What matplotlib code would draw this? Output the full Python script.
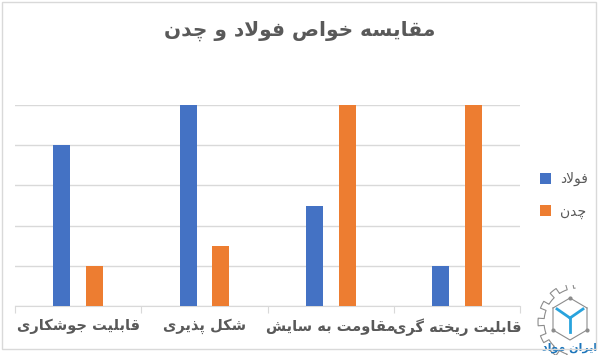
import numpy as np
import matplotlib
matplotlib.use('Agg')
import matplotlib.pyplot as plt
from matplotlib.patches import Rectangle

matplotlib.rcParams['font.family'] = ['DejaVu Sans']

# data
title = 'مقایسه خواص فولاد و چدن'
categories = ['قابلیت جوشکاری', 'شکل پذیری', 'مقاومت به سایش', 'قابلیت ریخته گری']
steel = [4, 5, 2.5, 1]
cast_iron = [1, 1.5, 5, 5]
series_names = ['فولاد', 'چدن']

# --- small persian shaper (matplotlib has no text shaping) ---
# letter: (isolated, final, initial, medial); None = does not join forward
FORMS = {
    'ا': (0xFE8D, 0xFE8E, None, None), 'آ': (0xFE81, 0xFE82, None, None),
    'ب': (0xFE8F, 0xFE90, 0xFE91, 0xFE92), 'پ': (0xFB56, 0xFB57, 0xFB58, 0xFB59),
    'ت': (0xFE95, 0xFE96, 0xFE97, 0xFE98), 'ج': (0xFE9D, 0xFE9E, 0xFE9F, 0xFEA0),
    'چ': (0xFB7A, 0xFB7B, 0xFB7C, 0xFB7D), 'خ': (0xFEA5, 0xFEA6, 0xFEA7, 0xFEA8),
    'د': (0xFEA9, 0xFEAA, None, None), 'ذ': (0xFEAB, 0xFEAC, None, None),
    'ر': (0xFEAD, 0xFEAE, None, None), 'ز': (0xFEAF, 0xFEB0, None, None),
    'س': (0xFEB1, 0xFEB2, 0xFEB3, 0xFEB4), 'ش': (0xFEB5, 0xFEB6, 0xFEB7, 0xFEB8),
    'ص': (0xFEB9, 0xFEBA, 0xFEBB, 0xFEBC), 'ف': (0xFED1, 0xFED2, 0xFED3, 0xFED4),
    'ق': (0xFED5, 0xFED6, 0xFED7, 0xFED8), 'ک': (0xFB8E, 0xFB8F, 0xFB90, 0xFB91),
    'گ': (0xFB92, 0xFB93, 0xFB94, 0xFB95), 'ل': (0xFEDD, 0xFEDE, 0xFEDF, 0xFEE0),
    'م': (0xFEE1, 0xFEE2, 0xFEE3, 0xFEE4), 'ن': (0xFEE5, 0xFEE6, 0xFEE7, 0xFEE8),
    'ه': (0xFEE9, 0xFEEA, 0xFEEB, 0xFEEC), 'و': (0xFEED, 0xFEEE, None, None),
    'ی': (0xFBFC, 0xFBFD, 0xFBFE, 0xFBFF),
}
LAM_ALEF = (0xFEFB, 0xFEFC)


def shape(s):
    s = s.replace('لا', '\x01')
    out = []
    for i, c in enumerate(s):
        prev = s[i - 1] if i > 0 else ' '
        jp = prev in FORMS and FORMS[prev][2] is not None
        if c == '\x01':
            out.append(chr(LAM_ALEF[1] if jp else LAM_ALEF[0]))
            continue
        if c not in FORMS:
            out.append(c)
            continue
        nxt = s[i + 1] if i + 1 < len(s) else ' '
        f = FORMS[c]
        jn = (nxt in FORMS or nxt == '\x01') and f[2] is not None
        if jp and jn:
            code = f[3]
        elif jp:
            code = f[1]
        elif jn:
            code = f[2]
        else:
            code = f[0]
        out.append(chr(code))
    return ''.join(out)[::-1]


grey = '#595959'
blue = '#4472c4'
orange = '#ed7d31'

fig = plt.figure(figsize=(6, 3.6), dpi=100)
ax = fig.add_axes([0.025, 0.15, 0.842, 0.558])

x = np.arange(len(categories))
w = 0.135
ax.bar(x - 0.13, steel, w, color=blue, label=shape(series_names[0]), zorder=3)
ax.bar(x + 0.13, cast_iron, w, color=orange, label=shape(series_names[1]), zorder=3)

ax.set_xlim(-0.5, len(categories) - 0.5)
ax.set_ylim(0, 5)
ax.set_yticks(np.arange(0, 6, 1))
ax.yaxis.grid(True, color='#d9d9d9', linewidth=1, zorder=0)
ax.tick_params(axis='y', left=False, labelleft=False)
for s in ['top', 'right', 'left']:
    ax.spines[s].set_visible(False)
ax.spines['bottom'].set_color('#d9d9d9')

ax.set_xticks(np.arange(-0.5, len(categories)), minor=False)
ax.set_xticklabels([])
ax.tick_params(axis='x', length=5, color='#d9d9d9')
ax.set_xticks(x, minor=True)
ax.set_xticklabels([shape(c) for c in categories], minor=True, fontweight='bold')
ax.tick_params(axis='x', which='minor', length=0, pad=9, labelsize=10.5, labelcolor=grey)

fig.text(0.5, 0.915, shape(title), ha='center', va='center', fontsize=14.5,
         color=grey, fontweight='bold')

ax.legend(loc='center left', bbox_to_anchor=(1.015, 0.55), frameon=False,
          fontsize=10, labelcolor=grey, handlelength=0.8, handleheight=0.8,
          handletextpad=0.6, labelspacing=1.3)

# chart border
fig.patches.append(Rectangle((0.004, 0.03), 0.99, 0.965, transform=fig.transFigure,
                             fill=False, edgecolor='#d9d9d9', linewidth=1))

# watermark logo (pixel coords inside a small axes): gear outline + cube
lax = fig.add_axes([525 / 600, 5 / 360, 75 / 600, 70 / 360])
lax.set_xlim(525, 600)
lax.set_ylim(355, 285)
lax.axis('off')
t = np.linspace(np.radians(95), np.radians(255), 500)
r = 34 + 6 * (np.cos(14 * t) > 0.2)
lax.plot(578 + r * np.cos(t), 322 - r * np.sin(t), color='#8c8c8c', lw=0.8)
cx, cy = 570, 318
edge = '#8c8c8c'
lax.plot([553, 570, 587], [308, 298, 308], color=edge, lw=0.8)
lax.plot([553, 553, 570, 587, 587], [308, 330, 340, 330, 308], color=edge, lw=0.8)
for px, py in [(570, 298), (553, 330), (587, 330)]:
    lax.plot([px], [py], 'o', color=edge, ms=2)
for px, py in [(557, 309), (583, 309), (570, 332)]:
    lax.plot([cx, px], [cy, py], color='#29a3dd', lw=2)
lax.text(570, 353, shape('ایران مواد'), ha='center', va='bottom',
         fontsize=8, color='#1b75bb', fontweight='bold')

fig.savefig('out.png', dpi=100)
